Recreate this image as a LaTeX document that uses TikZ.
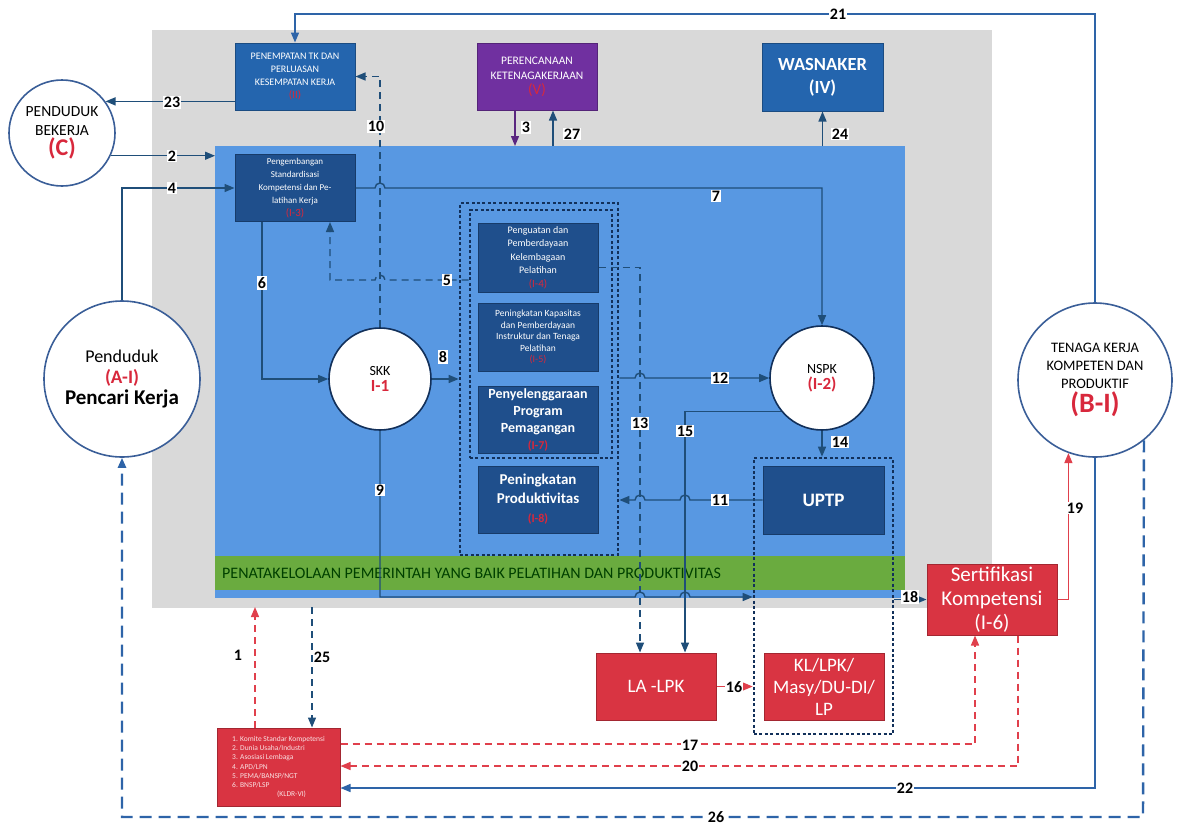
\documentclass[tikz,border=0pt]{standalone}
\usepackage{fontspec}
\setmainfont{Carlito}
\usetikzlibrary{arrows.meta,calc}
\definecolor{gbg}{HTML}{D9D9D9}
\definecolor{bbg}{HTML}{5898E2}
\definecolor{grn}{HTML}{6AAB3F}
\definecolor{dbx}{HTML}{1F4F8C}
\definecolor{mbx}{HTML}{2465AE}
\definecolor{pur}{HTML}{7030A0}
\definecolor{rbx}{HTML}{D93442}
\definecolor{ln}{HTML}{1F4E79}
\definecolor{bln}{HTML}{2E64A8}
\definecolor{rln}{HTML}{E0404C}
\definecolor{rtx}{HTML}{D8283C}
\definecolor{navy}{HTML}{12305A}
\definecolor{cbd}{HTML}{3A5E98}
\newcommand\hopR{arc[start angle=180,end angle=360,radius=5]}
\newcommand\hopL{arc[start angle=0,end angle=-180,radius=5]}
\newcommand\fs[1]{\fontsize{#1}{\fpeval{round(1.15*#1,2)}}\selectfont}
\newcommand\fsb[2]{\fontsize{#1}{#2}\selectfont}
\begin{document}
\begin{tikzpicture}[x=1pt,y=-1pt,
  bx/.style={draw=#1!75!black, fill=#1, line width=1pt, text=white, align=center, inner sep=1pt, minimum width=120pt, minimum height=67pt},
  cir/.style={circle, draw=cbd, line width=1.6pt, fill=white, align=center, inner sep=0pt},
  grp/.style={draw=navy, line width=2.6pt, dash pattern=on 3pt off 2.4pt},
  cn/.style={draw=ln, line width=1.4pt},
  rcn/.style={draw=rln, line width=1.4pt},
  ar/.style={-{Triangle[length=10pt,width=8pt]}},
  dsh/.style={dash pattern=on 7pt off 5pt},
  lbl/.style={fill=white, inner sep=1.2pt, font=\fs{16}\bfseries, text=black}]
\useasboundingbox (0,0) rectangle (1188,828);
\fill[white] (0,0) rectangle (1188,828);
% backgrounds
\fill[gbg] (152,30) rectangle (992,608);
\fill[bbg] (215,146) rectangle (905,598);
\fill[grn] (215,556) rectangle (905,590);
\node[anchor=west, text=black!75!green, font=\fs{16}, inner sep=0pt] (gtext) at (222,573) {PENATAKELOLAAN PEMERINTAH YANG BAIK PELATIHAN DAN PRODUKTIVITAS};

% helper coordinates
\coordinate (y21) at (0,14);
\coordinate (xb) at (215,0);
\coordinate (yb) at (0,146);
\coordinate (y5) at (0,280);
\coordinate (x5) at (330,0);
\coordinate (x6) at (262,0);
\coordinate (x13) at (640,0);
\coordinate (x15) at (685,0);
\coordinate (y9) at (0,597);
\coordinate (x1) at (255,0);
\coordinate (x25) at (312,0);
\coordinate (ygb) at (0,607);
\coordinate (y17) at (0,744);
\coordinate (x17) at (975,0);
\coordinate (y20) at (0,766);
\coordinate (x20) at (1018,0);
\coordinate (y22) at (0,788);
\coordinate (y26) at (0,817);
\coordinate (x26) at (1143,0);
\coordinate (x3) at (515,0);
\coordinate (x27) at (553,0);

% groups
\node[grp, minimum width=158pt, minimum height=352pt] (gout) at (539,379) {};
\node[grp, minimum width=142pt, minimum height=248pt] (gin) at (541,334) {};
\node[grp, minimum width=139pt, minimum height=276pt] (gr) at (823.5,596) {};

% boxes
\node[bx=mbx, font=\fsb{10}{13}] (pen) at (295,76.5) {PENEMPATAN TK DAN\\PERLUASAN\\KESEMPATAN KERJA\\{\fs{11}\color{rtx}(II)}};
\node[bx=pur, font=\fsb{11.5}{15}] (pur) at (537,76.5) {PERENCANAAN\\KETENAGAKERJAAN\\{\fs{15}\color{rtx}(V)}};
\node[bx=mbx, font=\fsb{18.5}{23}\bfseries, minimum width=121pt, minimum height=68pt] (was) at (822.5,77) {WASNAKER\\(IV)};
\node[bx=dbx, font=\fsb{9}{13}] (peng) at (295,188) {Pengembangan\\Standardisasi\\Kompetensi dan Pe-\\latihan Kerja\\{\fs{11}\color{rtx}(I-3)}};
\node[bx=dbx, font=\fsb{10}{13.5}, minimum height=69pt] (b1) at (538,257.5) {Penguatan dan\\Pemberdayaan\\Kelembagaan\\Pelatihan\\{\fs{11}\color{rtx}(I-4)}};
\node[bx=dbx, font=\fsb{9.5}{11.5}, minimum height=68pt] (b2) at (538,337) {Peningkatan Kapasitas\\dan Pemberdayaan\\Instruktur dan Tenaga\\Pelatihan\\{\fsb{10}{12}\color{rtx}(I-5)}};
\node[bx=dbx, font=\fsb{14}{17}\bfseries] (b3) at (538,419.5) {Penyelenggaraan\\Program\\Pemagangan\\{\fs{12}\color{rtx}(I-7)}};
\node[bx=dbx, font=\fsb{15}{19}\bfseries] (b4) at (538,499.5) {Peningkatan\\Produktivitas\\{\fs{12}\color{rtx}(I-8)}};
\node[bx=dbx, font=\fs{19}\bfseries, minimum width=121pt, minimum height=68pt] (uptp) at (823.5,500) {UPTP};
\node[bx=rbx, font=\fs{19}] (lalpk) at (656,686.5) {LA -LPK};
\node[bx=rbx, font=\fsb{19}{22}] (kl) at (824,686.5) {KL/LPK/\\Masy/DU-DI/\\LP};
\node[bx=rbx, font=\fsb{21}{24}, minimum width=130pt, minimum height=71pt] (sert) at (992,599.5) {Sertifikasi\\Kompetensi\\(I-6)};
\node[bx=rbx, font=\fsb{7.5}{9.2}, align=left, minimum width=123pt, minimum height=78pt, text=white!85!rbx] (bl) at (278.5,767) {1. Komite Standar Kompetensi\\2. Dunia Usaha/Industri\\3. Asosiasi Lembaga\\4. APD/LPN\\5. PEMA/BANSP/NGT\\6. BNSP/LSP\\\hspace*{45pt}(KLDR-VI)};

% circles
\node[cir, minimum size=106pt, font=\fsb{15.5}{19}] (pb) at (62,133) {PENDUDUK\\BEKERJA\\[1pt]{\fs{24}\bfseries\color{rtx}(C)}};
\node[cir, minimum size=156pt, font=\fs{18}] (pk) at (122,379) {Penduduk\\{\fs{19}\bfseries\color{rtx}(A-I)}\\{\fs{21}\bfseries Pencari Kerja}};
\node[cir, minimum size=154pt, font=\fsb{14.5}{18}] (tk) at (1095,380) {TENAGA KERJA\\KOMPETEN DAN\\PRODUKTIF\\[2pt]{\fs{28}\bfseries\color{rtx}(B-I)}};
\node[cir, draw=navy, minimum size=102pt, font=\fs{14}] (skk) at (380,379) {SKK\\{\fs{17}\bfseries\color{rtx}I-1}};
\node[cir, draw=navy, minimum size=104pt, font=\fs{14}] (nspk) at (822,378) {NSPK\\{\fs{17}\bfseries\color{rtx}(I-2)}};

% connectors
\draw[cn,draw=bln,ar] (tk.north) -- (tk.north |- y21) -- (pen.north |- y21) -- (pen.north);
\draw[cn,ar] (pen.west |- pb.36) -- (pb.36);
\draw[cn,ar] (pb.-25) -- (xb |- pb.-25);
\draw[cn,ar] (pk.north) |- (peng.west);
\draw[cn,dsh,ar] (skk.north) |- (pen.east);
\draw[cn,draw=pur!80!black,ar] (x3 |- pur.south) -- (x3 |- yb);
\draw[cn,ar] (x27 |- yb) -- (x27 |- pur.south);
\draw[cn,ar] (was.south |- yb) -- (was.south);
\draw[cn,ar] (peng.east) -- ($(skk.north |- peng.east)+(-5,0)$) \hopR -- (nspk.north |- peng.east) -- (nspk.north);
\draw[cn,dsh,ar] (gin.west |- y5) -- ($(skk.north |- y5)+(5,0)$) \hopL -- (x5 |- y5) -- (x5 |- peng.south);
\draw[cn,ar] (x6 |- peng.south) |- (skk.west);
\draw[cn,ar] (skk.east) -- (gout.west |- skk.east);
\draw[cn,ar] (gout.east |- nspk.west) -- ($(x13 |- nspk.west)+(-5,0)$) \hopR -- (nspk.west);
\draw[cn,dsh,ar] ([yshift=-10pt]b1.east) -| (x13 |- lalpk.north);
\draw[cn,ar] (nspk.219) -| (x15 |- lalpk.north);
\draw[cn,ar] (nspk.south) -- (nspk.south |- gr.north);
\draw[cn,ar] (uptp.west) -- ($(x15 |- uptp.west)+(5,0)$) \hopL -- ($(x13 |- uptp.west)+(5,0)$) \hopL -- (gout.east |- uptp.west);
\draw[cn,ar] (skk.south) -- (skk.south |- y9) -- ($(x13 |- y9)+(-5,0)$) \hopR -- ($(x15 |- y9)+(-5,0)$) \hopR -- (gr.west |- y9);
\draw[cn,ar] (gr.east |- sert.west) -- (sert.west);
\draw[rcn,ar] (sert.east) -| (tk.-110.6);
\draw[rcn,ar] (lalpk.east) -- (gr.west |- lalpk.east);
\draw[rcn,dsh,ar] (x1 |- bl.north) -- (x1 |- ygb);
\draw[cn,dsh,ar] (x25 |- ygb) -- (x25 |- bl.north);
\draw[rcn,dsh,ar] (bl.east |- y17) -| (x17 |- sert.south);
\draw[rcn,dsh,ar] (x20 |- sert.south) |- (bl.east |- y20);
\draw[cn,draw=bln,ar] (tk.south) |- (bl.east |- y22);
\draw[cn,draw=bln,line width=2.4pt,dash pattern=on 12pt off 7pt,ar] (tk.-51.3) -- (x26 |- y26) -- (pk.south |- y26) -- (pk.south);

% labels
\node[lbl] (l21) at (838,14) {21};
\node[lbl] (l23) at (172,102) {23};
\node[lbl] (l2) at (172,156) {2};
\node[lbl] (l4) at (172,188) {4};
\node[lbl] (l10) at (376,126) {10};
\node[lbl] (l3) at (526,127) {3};
\node[lbl] (l27) at (572,134) {27};
\node[lbl] (l24) at (840,134) {24};
\node[lbl] (l7) at (716,196) {7};
\node[lbl] (l5) at (447,280) {5};
\node[lbl] (l6) at (262,283) {6};
\node[lbl] (l8) at (443,357) {8};
\node[lbl] (l12) at (720,378) {12};
\node[lbl] (l13) at (640,423) {13};
\node[lbl] (l15) at (685,431) {15};
\node[lbl] (l14) at (840,442) {14};
\node[lbl] (l11) at (720,500) {11};
\node[lbl] (l9) at (380,490) {9};
\node[lbl] (l18) at (910,597) {18};
\node[lbl] (l19) at (1075,508) {19};
\node[lbl] (l16) at (734,687) {16};
\node[lbl] (l1) at (238,655) {1};
\node[lbl] (l25) at (322,657) {25};
\node[lbl] (l17) at (690,745) {17};
\node[lbl] (l20) at (690,766) {20};
\node[lbl] (l22) at (905,788) {22};
\node[lbl] (l26) at (716,817) {26};
\end{tikzpicture}
\end{document}
